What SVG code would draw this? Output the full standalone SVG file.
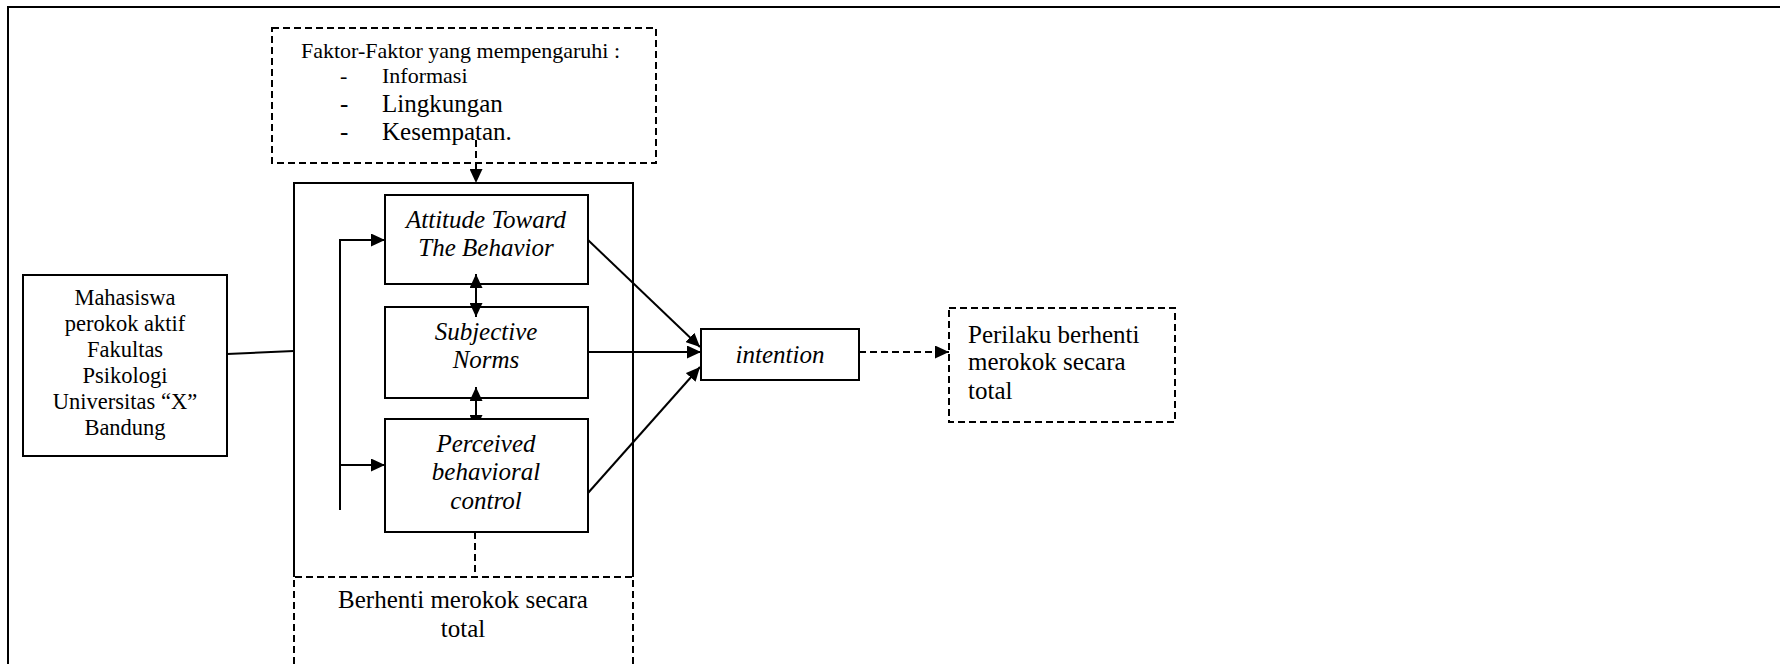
<svg xmlns="http://www.w3.org/2000/svg" width="1780" height="664" viewBox="0 0 1780 664">
<style>
.bx{fill:#fff;stroke:#000;stroke-width:2}
.dbx{fill:none;stroke:#000;stroke-width:2;stroke-dasharray:7 4}
.ln{fill:none;stroke:#000;stroke-width:2}
.dl{fill:none;stroke:#000;stroke-width:2;stroke-dasharray:7 4}
text{font-family:"Liberation Serif","Times New Roman",serif;fill:#000}
.it{font-style:italic;font-size:25px}
.t25{font-size:25px}
.t22{font-size:22px}
</style>
<defs>
<marker id="ah" markerUnits="userSpaceOnUse" markerWidth="15" markerHeight="13" refX="14" refY="6.5" orient="auto-start-reverse" viewBox="0 0 15 13">
<path d="M0,0 L14,6.5 L0,13 z" fill="#000"/>
</marker>
</defs>
<rect width="1780" height="664" fill="#fff"/>
<g id="frame"><path d="M8,664 L8,7 L1780,7" class="ln" stroke-width="2.5"/></g>
<g id="faktor">
<rect x="272" y="28" width="384" height="135" class="dbx"/>
<text class="t22" x="301" y="58">Faktor-Faktor yang mempengaruhi :</text>
<text class="t22" x="340" y="83">-</text>
<text class="t22" x="382" y="83">Informasi</text>
<text class="t25" x="340" y="112">-</text>
<text class="t25" x="382" y="112">Lingkungan</text>
<text class="t25" x="340" y="140">-</text>
<text class="t25" x="382" y="140">Kesempatan.</text>
</g>
<g id="mahasiswa">
<rect x="23" y="275" width="204" height="181" class="bx"/>
<text class="t22" x="125" y="305" text-anchor="middle" style="font-size:22.5px">Mahasiswa</text>
<text class="t22" x="125" y="331" text-anchor="middle" style="font-size:22.5px">perokok aktif</text>
<text class="t22" x="125" y="357" text-anchor="middle" style="font-size:22.5px">Fakultas</text>
<text class="t22" x="125" y="383" text-anchor="middle" style="font-size:22.5px">Psikologi</text>
<text class="t22" x="125" y="409" text-anchor="middle" style="font-size:22.5px">Universitas “X”</text>
<text class="t22" x="125" y="435" text-anchor="middle" style="font-size:22.5px">Bandung</text>
</g>
<g id="outer">
<path d="M294,577 L294,183 L633,183 L633,577" class="ln"/>
</g>
<g id="berhenti">
<path d="M294,664 L294,577 L633,577 L633,664" class="dl"/>
<text class="t25" x="463" y="608" text-anchor="middle">Berhenti merokok secara</text>
<text class="t25" x="463" y="637" text-anchor="middle">total</text>
</g>
<g id="attitude">
<rect x="385" y="195" width="203" height="89" class="bx"/>
<text class="it" x="486" y="228" text-anchor="middle">Attitude Toward</text>
<text class="it" x="486" y="256" text-anchor="middle">The Behavior</text>
</g>
<g id="subjective">
<rect x="385" y="307" width="203" height="91" class="bx"/>
<text class="it" x="486" y="340" text-anchor="middle">Subjective</text>
<text class="it" x="486" y="368" text-anchor="middle">Norms</text>
</g>
<g id="connectors">
<path d="M227,354 L294,351" class="ln"/>
<path d="M476,140 L476,183" class="dl" marker-end="url(#ah)"/>
<path d="M340,510 L340,240 L385,240" class="ln" marker-end="url(#ah)"/>
<path d="M340,465 L385,465" class="ln" marker-end="url(#ah)"/>
<path d="M476,274 L476,317" class="ln" marker-start="url(#ah)" marker-end="url(#ah)"/>
<path d="M476,387 L476,429" class="ln" marker-start="url(#ah)" marker-end="url(#ah)"/>
<path d="M588,240 L700,347" class="ln" marker-end="url(#ah)"/>
<path d="M588,352 L701,352" class="ln" marker-end="url(#ah)"/>
<path d="M588,493 L700,367" class="ln" marker-end="url(#ah)"/>
<path d="M859,352 L949,352" class="dl" marker-end="url(#ah)"/>
<path d="M475,532 L475,577" class="dl"/>
</g>
<g id="perceived">
<rect x="385" y="419" width="203" height="113" class="bx"/>
<text class="it" x="486" y="452" text-anchor="middle">Perceived</text>
<text class="it" x="486" y="480" text-anchor="middle">behavioral</text>
<text class="it" x="486" y="509" text-anchor="middle">control</text>
</g>
<g id="intention">
<rect x="701" y="329" width="158" height="51" class="bx"/>
<text class="it" x="780" y="363" text-anchor="middle">intention</text>
</g>
<g id="perilaku">
<rect x="949" y="308" width="226" height="114" class="dbx"/>
<text class="t25" x="968" y="343">Perilaku berhenti</text>
<text class="t25" x="968" y="370">merokok secara</text>
<text class="t25" x="968" y="399">total</text>
</g>
</svg>
